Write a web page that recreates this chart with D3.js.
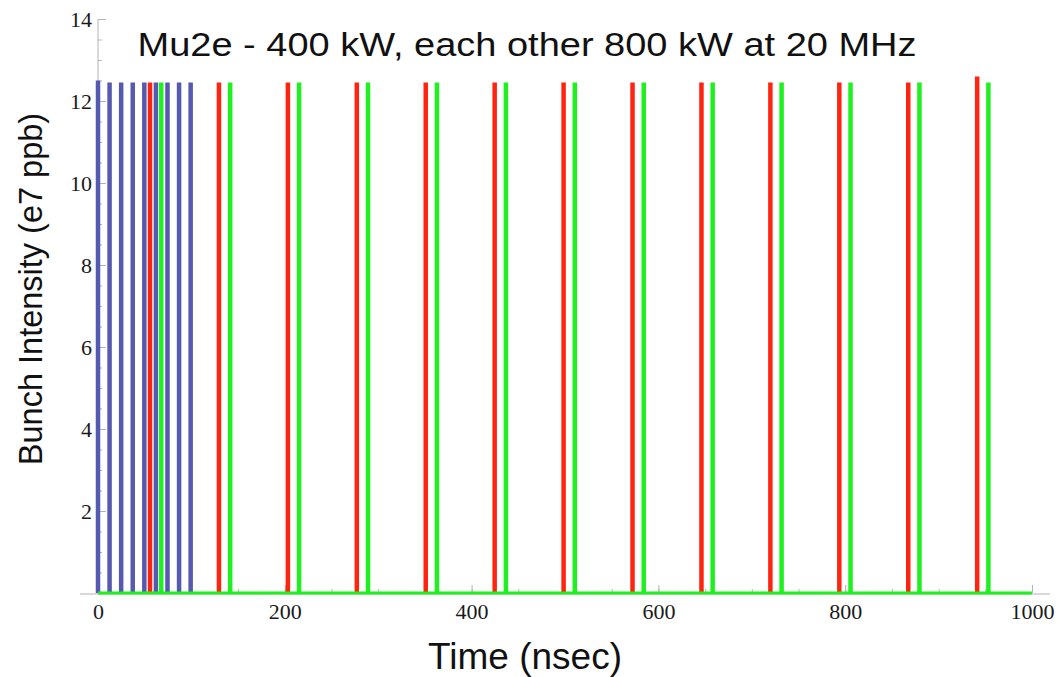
<!DOCTYPE html>
<html>
<head>
<meta charset="utf-8">
<script src="https://cdn.jsdelivr.net/npm/d3@7"></script>
<style>
  body { margin: 0; background: #fff; }
  svg { display: block; }
</style>
</head>
<body>
<div id="chart"></div>
<script>
// bunch times (nsec) and intensities (e7 ppb)
var blueTimes = [0, 12.4, 24.8, 37.2, 49.6, 62, 74.4, 86.8, 99.2];
var blueValues = [12.5, 12.45, 12.45, 12.45, 12.45, 12.45, 12.45, 12.45, 12.45];
var redTimes = [55.7, 129.5, 203.3, 277.1, 350.9, 424.7, 498.5, 572.3, 646.1, 719.9, 793.7, 867.5, 941.3];
var redValues = [12.45, 12.45, 12.45, 12.45, 12.45, 12.45, 12.45, 12.45, 12.45, 12.45, 12.45, 12.45, 12.6];
var greenTimes = [67.7, 141.5, 215.3, 289.1, 362.9, 436.7, 510.5, 584.3, 658.1, 731.9, 805.7, 879.5, 953.3];
var greenValues = [12.45, 12.45, 12.45, 12.45, 12.45, 12.45, 12.45, 12.45, 12.45, 12.45, 12.45, 12.45, 12.45];
var xTicks = [0, 200, 400, 600, 800, 1000];
var yTicks = [2, 4, 6, 8, 10, 12, 14];

var width = 1057, height = 677;

var svg = d3.select("#chart").append("svg")
    .attr("width", width)
    .attr("height", height);

var x = d3.scaleLinear().domain([0, 1000]).range([98, 1032]);
var y = d3.scaleLinear().domain([0, 14]).range([593, 19]);

// axes (Mathematica style, ticks pointing inwards)
var axisColor = "#b3b3b3";

var xMinor = svg.append("g")
    .attr("transform", "translate(0," + y(0) + ")")
    .call(d3.axisBottom(x).tickValues(d3.range(0, 1001, 50)).tickSize(-4).tickSizeOuter(0).tickFormat(""));
var xMajor = svg.append("g")
    .attr("transform", "translate(0," + y(0) + ")")
    .call(d3.axisBottom(x).tickValues(xTicks).tickSize(-8).tickSizeOuter(0).tickPadding(10).tickFormat(d3.format("d")));

var yMinor = svg.append("g")
    .attr("transform", "translate(" + x(0) + ",0)")
    .call(d3.axisLeft(y).tickValues(d3.range(0, 14.01, 0.5)).tickSize(-4).tickSizeOuter(0).tickFormat(""));
var yMajor = svg.append("g")
    .attr("transform", "translate(" + x(0) + ",0)")
    .call(d3.axisLeft(y).tickValues(yTicks).tickSize(-8).tickSizeOuter(0).tickPadding(6));

[xMinor, xMajor, yMinor, yMajor].forEach(function(g) {
    g.selectAll("path").remove();
    g.selectAll("line").attr("stroke", axisColor);
    g.selectAll("text")
        .attr("fill", "#1a1a1a")
        .attr("font-family", "'Liberation Serif', 'Times New Roman', serif")
        .attr("font-size", 22);
});

// axis lines
svg.append("line")
    .attr("x1", 80).attr("x2", 1050)
    .attr("y1", y(0) + 1).attr("y2", y(0) + 1)
    .attr("stroke", axisColor).attr("stroke-width", 1);
svg.append("line")
    .attr("x1", x(0)).attr("x2", x(0))
    .attr("y1", y(14)).attr("y2", y(0) + 1)
    .attr("stroke", axisColor).attr("stroke-width", 1);

// bunches
function drawBunches(times, values, color, cls) {
    var data = times.map(function(t, i) { return { t: t, v: values[i] }; });
    svg.selectAll("line." + cls)
        .data(data)
        .enter()
        .append("line")
        .attr("class", cls)
        .attr("x1", function(d) { return x(d.t); })
        .attr("x2", function(d) { return x(d.t); })
        .attr("y1", y(0))
        .attr("y2", function(d) { return y(d.v); })
        .attr("stroke", color)
        .attr("stroke-width", 4.5);
}
drawBunches(blueTimes, blueValues, "#5659b0", "blue");
drawBunches(redTimes, redValues, "#ff2410", "red");
drawBunches(greenTimes, greenValues, "#1ff01f", "green");

// baseline
svg.append("line")
    .attr("x1", x(0)).attr("x2", x(1000))
    .attr("y1", y(0)).attr("y2", y(0))
    .attr("stroke", "#1ff01f").attr("stroke-width", 3);

// title and labels
var sans = "'Liberation Sans', Arial, Helvetica, sans-serif";
svg.append("text")
    .attr("x", 527).attr("y", 56)
    .attr("text-anchor", "middle")
    .attr("font-family", sans)
    .attr("font-size", 34)
    .attr("textLength", 779)
    .attr("lengthAdjust", "spacingAndGlyphs")
    .attr("fill", "#111")
    .text("Mu2e - 400 kW, each other 800 kW at 20 MHz");

svg.append("text")
    .attr("x", 525).attr("y", 669)
    .attr("text-anchor", "middle")
    .attr("font-family", sans)
    .attr("font-size", 37)
    .attr("fill", "#111")
    .text("Time (nsec)");

svg.append("text")
    .attr("transform", "translate(42,289) rotate(-90)")
    .attr("text-anchor", "middle")
    .attr("font-family", sans)
    .attr("font-size", 32.5)
    .attr("fill", "#111")
    .text("Bunch Intensity (e7 ppb)");
</script>
</body>
</html>
